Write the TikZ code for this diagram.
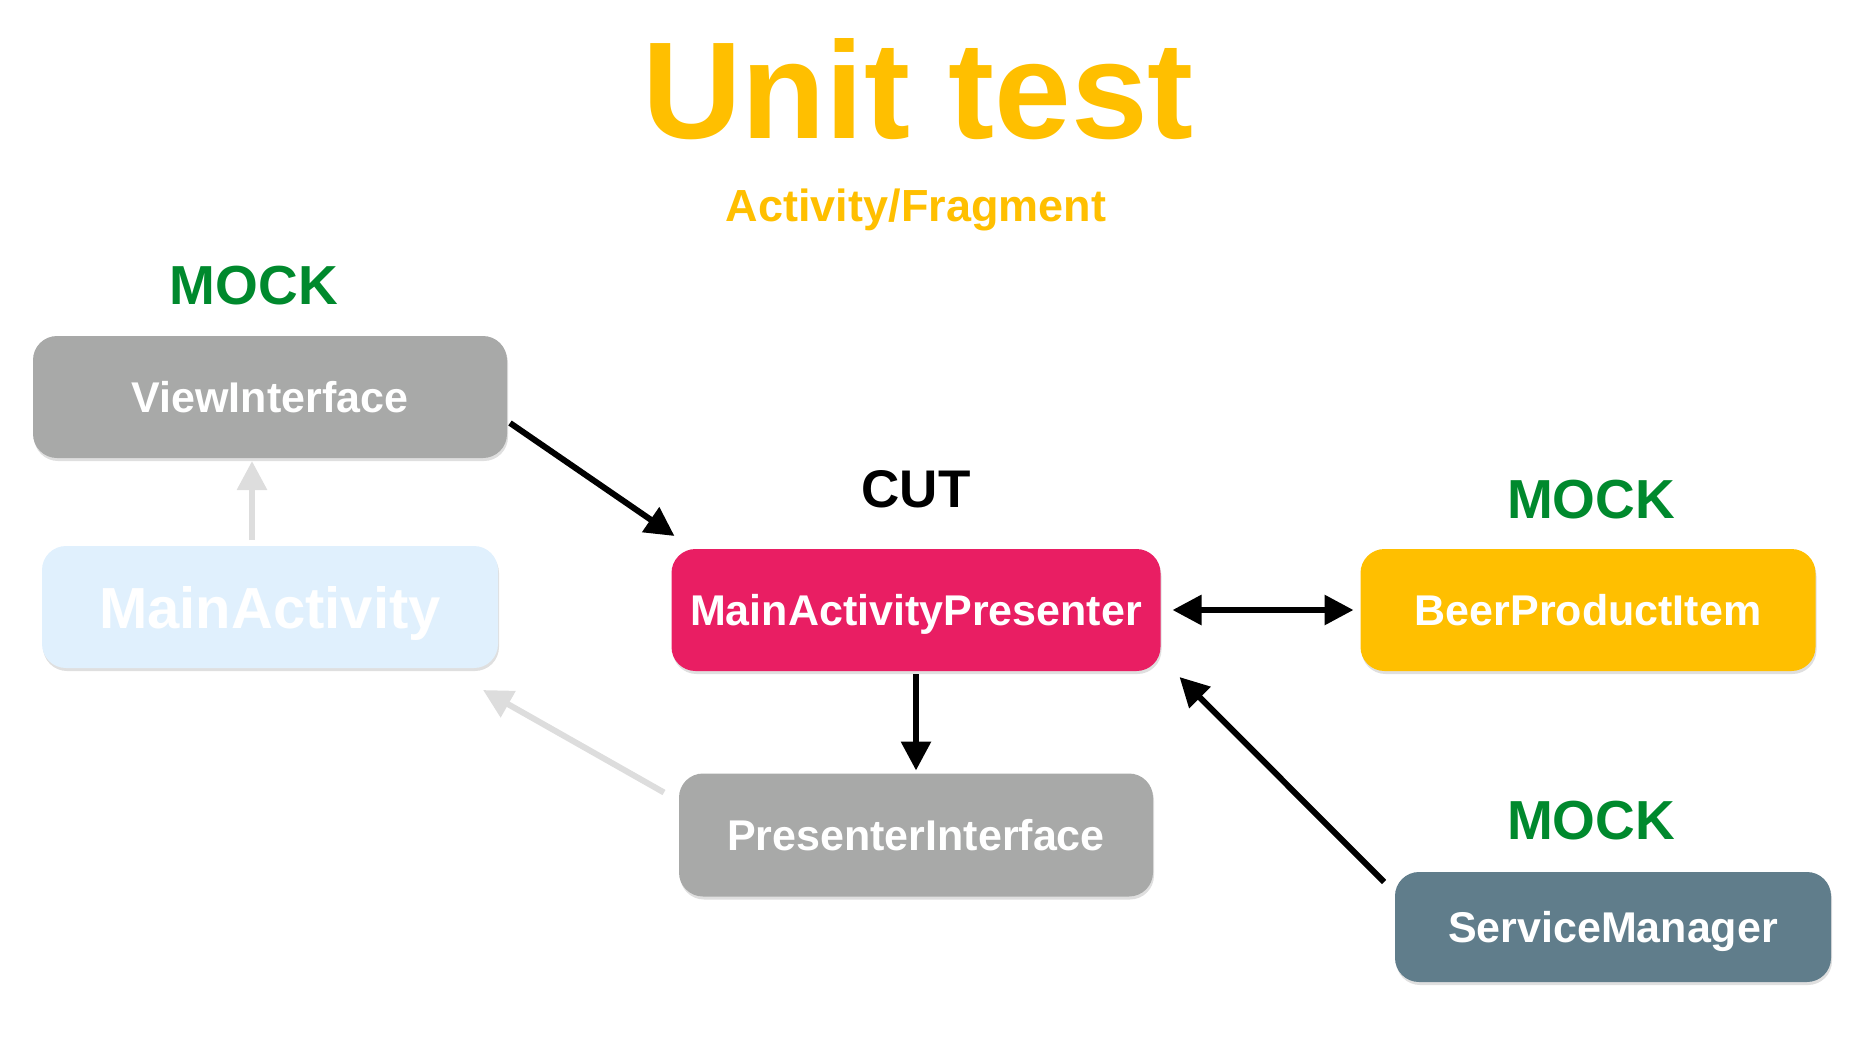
\documentclass[tikz,border=0pt]{standalone}
\usepackage{fontspec}
\setmainfont{Liberation Sans}
\usetikzlibrary{arrows.meta,shadows}
\definecolor{amber}{RGB}{255,191,0}
\definecolor{mockgreen}{RGB}{0,137,45}
\definecolor{boxgray}{RGB}{168,169,168}
\definecolor{paleblue}{RGB}{224,240,253}
\definecolor{cutpink}{RGB}{233,30,99}
\definecolor{slate}{RGB}{96,125,139}
\definecolor{ghost}{RGB}{221,221,221}

\begin{document}
\begin{tikzpicture}[x=1pt, y=-1pt, >={Triangle[length=29pt,width=29pt]}, line width=6pt,
  box/.style={rounded corners=24pt, inner sep=0pt, text=white, font=\fontsize{43}{50}\selectfont\bfseries,
    text height=31pt, text depth=0pt, drop shadow={shadow xshift=1pt, shadow yshift=-3pt, opacity=0.25}},
  head/.style={anchor=base, font=\fontsize{55}{60}\selectfont\bfseries}]
\useasboundingbox (0,0) rectangle (1876,1036);
\node[anchor=base, text=amber, font=\fontsize{138}{140}\selectfont\bfseries] (UnitTest) at (918,138) {Unit test};
\node[anchor=base, text=amber, font=\fontsize{45}{50}\selectfont\bfseries] (ActivityFragment) at (916,221) {Activity/Fragment};
\node[head, text=mockgreen] (MOCK1) at (254,304) {MOCK};
\node[head, font=\fontsize{53}{60}\selectfont\bfseries] (CUT) at (916,507) {CUT};
\node[head, text=mockgreen] (MOCK2) at (1591,518) {MOCK};
\node[head, text=mockgreen] (MOCK3) at (1591,839) {MOCK};
\node[box, fill=boxgray, minimum width=474pt, minimum height=122pt] (ViewInterface) at (270,397) {ViewInterface};
\node[box, fill=paleblue, minimum width=456pt, minimum height=122pt, font=\fontsize{58}{60}\selectfont\bfseries, text height=42pt] (MainActivity) at (270,607) {MainActivity};
\node[box, fill=cutpink, minimum width=489pt, minimum height=122pt] (MainActivityPresenter) at (916,610) {MainActivityPresenter};
\node[box, fill=amber, minimum width=455pt, minimum height=122pt] (BeerProductItem) at (1588,610) {BeerProductItem};
\node[box, fill=boxgray, minimum width=474pt, minimum height=123pt] (PresenterInterface) at (916,835) {PresenterInterface};
\node[box, fill=slate, minimum width=436pt, minimum height=110pt] (ServiceManager) at (1613,927) {ServiceManager};
\draw[->] ([yshift=-26pt]ViewInterface.east) -- ([xshift=6pt,yshift=10pt]MainActivityPresenter.north west);
\draw[<->] ([xshift=9pt]MainActivityPresenter.east) -- ([xshift=-4pt]BeerProductItem.west);
\draw[->] (MainActivityPresenter.south) -- (PresenterInterface.north);
\draw[->] ([xshift=-8pt,yshift=-13pt]ServiceManager.north west) -- ([xshift=16pt,yshift=-3pt]MainActivityPresenter.south east);
\draw[->, ghost] ([xshift=-12pt,yshift=-22pt]PresenterInterface.north west) -- ([xshift=-18pt,yshift=-19pt]MainActivity.south east);
\draw[->, ghost] ([xshift=-18pt,yshift=3pt]MainActivity.north) -- ([xshift=-18pt]ViewInterface.south);
\end{tikzpicture}
\end{document}
